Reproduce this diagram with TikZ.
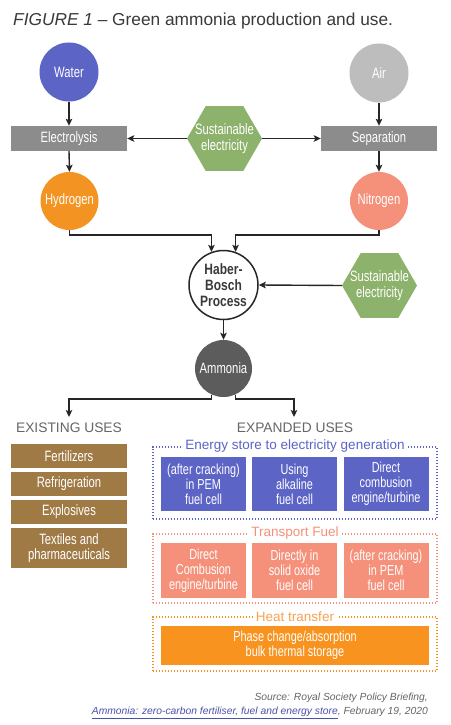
\documentclass[tikz,border=0pt]{standalone}
\usepackage{fontspec}
\setmainfont{Liberation Sans}
\newfontfamily\cnd[FakeStretch=0.75]{Liberation Sans}
\newfontfamily\cndb[FakeStretch=0.8]{Liberation Sans}
\usetikzlibrary{shapes.geometric,arrows.meta,calc}
\definecolor{cblue}{HTML}{5C64C6}
\definecolor{cgrayc}{HTML}{BDBDBD}
\definecolor{rgray}{HTML}{8C8C8C}
\definecolor{hgreen}{HTML}{8DB26B}
\definecolor{corange}{HTML}{F39322}
\definecolor{csalmon}{HTML}{F5917B}
\definecolor{camm}{HTML}{5C5C5C}
\definecolor{ubrown}{HTML}{A07A45}
\definecolor{horange}{HTML}{F7931E}
\definecolor{hlabel}{HTML}{F6A352}
\definecolor{hgray}{HTML}{666666}
\definecolor{tgray}{HTML}{3A3A3A}
\definecolor{linkblue}{HTML}{4A52A8}
\begin{document}
\begin{tikzpicture}[x=1pt,y=-1pt,
  arr/.style={draw=black!85, line width=1.4pt, -{Stealth[length=7pt,width=6.5pt,inset=1.5pt]}},
  circ/.style={circle, inner sep=0pt, text=white, font=\cnd\fontsize{15}{17}\selectfont},
  rectbox/.style={rectangle, inner sep=0pt, minimum width=116pt, minimum height=25pt, fill=rgray, text=white, font=\cnd\fontsize{15}{17}\selectfont},
  hexa/.style={regular polygon, regular polygon sides=6, minimum size=75pt, inner sep=0pt, fill=hgreen},
  hextext/.style={text=white, align=center, font=\cnd\fontsize{15}{15.5}\selectfont},
  usebox/.style={rectangle, inner sep=0pt, minimum width=116pt, fill=ubrown, text=white, align=center, font=\cnd\fontsize{15}{15.5}\selectfont},
  ebox/.style={rectangle, inner sep=0pt, minimum width=85pt, minimum height=54pt, align=center, text=white, font=\cnd\fontsize{14.5}{15}\selectfont},
  dotbox/.style={rectangle, inner sep=0pt, line width=1.3pt, dash pattern=on 1.2pt off 1.8pt, minimum width=284pt},
  grp/.style={fill=white, inner sep=3pt, font=\fontsize{13.5}{15}\selectfont},
  head/.style={text=hgray, anchor=base, font=\fontsize{13.8}{15}\selectfont}
]
\useasboundingbox[fill=white] (0,0) rectangle (450,725);

% title
\node[anchor=base west, inner sep=0pt, text=tgray, font=\fontsize{17.3}{19}\selectfont] (title) at (13,26) {\textit{FIGURE 1} -- Green ammonia production and use.};

% production
\node[circ, fill=cblue, minimum size=59pt] (wa) at (69,72) {Water};
\node[circ, fill=cgrayc, minimum size=59pt] (air) at (379,73) {Air};
\node[rectbox] (el) at (69,138.5) {Electrolysis};
\node[rectbox] (sep) at (379,138.5) {Separation};
\node[hexa, label={[hextext]center:{Sustainable\\electricity}}] (h1) at (224.5,138.5) {};
\node[circ, fill=corange, minimum size=58pt] (hy) at (69.5,201) {Hydrogen};
\node[circ, fill=csalmon, minimum size=58pt] (ni) at (379,201) {Nitrogen};
\node[circle, draw=black!85, line width=1.5pt, fill=white, minimum size=69pt, inner sep=0pt, align=center, text=tgray, font=\cndb\bfseries\fontsize{15}{16}\selectfont] (hb) at (223.5,285) {Haber-\\Bosch\\Process};
\node[hexa, label={[hextext]center:{Sustainable\\electricity}}] (h2) at (379.5,285.5) {};
\node[circ, fill=camm, minimum size=57pt] (am) at (223.5,368.5) {Ammonia};

\coordinate (jl) at (0,235);
\coordinate (ja) at (0,399);
\coordinate (exA) at (69,417);
\coordinate (exB) at (294,417);

\draw[arr] (wa.south) -- (el.north);
\draw[arr] (air.south) -- (sep.north);
\draw[arr] (h1.west) -- (el.east);
\draw[arr] (h1.east) -- (sep.west);
\draw[arr] (el.south) -- (hy.north);
\draw[arr] (sep.south) -- (ni.north);
\draw[arr] (hy.south) -- (hy.south |- jl) -| (hb.110);
\draw[arr] (ni.south) -- (ni.south |- jl) -| (hb.70);
\draw[arr] (h2.west) -- (hb.east);
\draw[arr] (hb.south) -- (am.north);
\draw[arr] (am.245) -- (am.245 |- ja) -| (exA);
\draw[arr] (am.295) -- (am.295 |- ja) -| (exB);

% uses headings
\node[head] (exist) at (69,432.5) {EXISTING USES};
\node[head] (expand) at (295,432.5) {EXPANDED USES};

% existing uses
\node[usebox, minimum height=24pt] (u1) at (69,456) {Fertilizers};
\node[usebox, minimum height=24pt] (u2) at (69,484) {Refrigeration};
\node[usebox, minimum height=24pt] (u3) at (69,512) {Explosives};
\node[usebox, minimum height=40pt] (u4) at (69,548) {Textiles and\\pharmaceuticals};

% expanded uses: energy store
\node[dotbox, draw=cblue, minimum height=72pt] (g1) at (295,483) {};
\node[grp, text=cblue] (g1l) at (g1.north) {Energy store to electricity generation};
\node[ebox, fill=cblue] (e1) at (203.5,484) {(after cracking)\\in PEM\\fuel cell};
\node[ebox, fill=cblue] (e2) at (294.5,484) {Using\\alkaline\\fuel cell};
\node[ebox, fill=cblue] (e3) at (386,484) {Direct\\combusion\\engine/turbine};

% transport fuel
\node[dotbox, draw=csalmon, minimum height=69pt] (g2) at (295,568.5) {};
\node[grp, text=csalmon] (g2l) at (g2.north) {Transport Fuel};
\node[ebox, fill=csalmon, minimum height=55pt] (t1) at (203.5,570.5) {Direct\\Combusion\\engine/turbine};
\node[ebox, fill=csalmon, minimum height=55pt] (t2) at (294.5,570.5) {Directly in\\solid oxide\\fuel cell};
\node[ebox, fill=csalmon, minimum height=55pt] (t3) at (386,570.5) {(after cracking)\\in PEM\\fuel cell};

% heat transfer
\node[dotbox, draw=horange, minimum height=54pt] (g3) at (295,644) {};
\node[grp, text=hlabel] (g3l) at (g3.north) {Heat transfer};
\node[ebox, fill=horange, minimum width=268pt, minimum height=39pt] (ht) at (295,645.5) {Phase change/absorption\\bulk thermal storage};

% source
\node[anchor=base east, inner sep=0pt, text=hgray, font=\itshape\fontsize{10.3}{12}\selectfont] (src1) at (428,700.5) {Source: Royal Society Policy Briefing,};
\node[anchor=base east, inner sep=0pt, text=hgray, font=\itshape\fontsize{10.3}{12}\selectfont] (src2) at (428,714.5) {\textcolor{linkblue}{\underline{Ammonia: zero-carbon fertiliser, fuel and energy store}}, February 19, 2020};
\end{tikzpicture}
\end{document}
